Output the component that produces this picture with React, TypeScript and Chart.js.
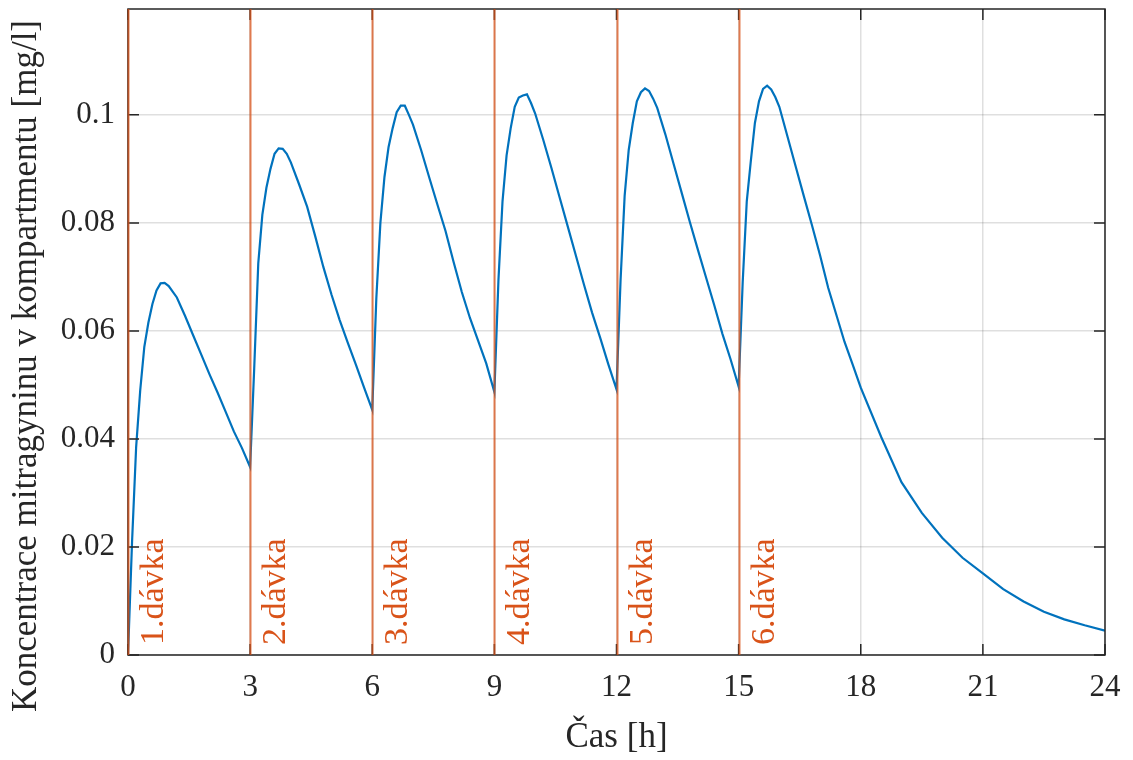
import React, { useEffect, useRef } from "react";
import { Chart, registerables } from "chart.js";

Chart.register(...registerables);

// ---- data ----
const TIME_H = [
  0, 0.1, 0.2, 0.3, 0.4, 0.5, 0.6, 0.7, 0.8, 0.9, 1.0, 1.2, 1.4, 1.6, 1.8, 2.0, 2.2, 2.4, 2.6, 2.8,
  3.0, 3.1, 3.2, 3.3, 3.4, 3.5, 3.6, 3.7, 3.8, 3.9, 4.0, 4.2, 4.4, 4.6, 4.8, 5.0, 5.2, 5.4, 5.6, 5.8,
  6.0, 6.1, 6.2, 6.3, 6.4, 6.5, 6.6, 6.7, 6.8, 6.9, 7.0, 7.2, 7.4, 7.6, 7.8, 8.0, 8.2, 8.4, 8.6, 8.8,
  9.0, 9.1, 9.2, 9.3, 9.4, 9.5, 9.6, 9.7, 9.8, 9.9, 10.0, 10.2, 10.4, 10.6, 10.8, 11.0, 11.2, 11.4, 11.6, 11.8,
  12.0, 12.1, 12.2, 12.3, 12.4, 12.5, 12.6, 12.7, 12.8, 12.9, 13.0, 13.2, 13.4, 13.6, 13.8, 14.0, 14.2, 14.4, 14.6, 14.8,
  15.0, 15.1, 15.2, 15.3, 15.4, 15.5, 15.6, 15.7, 15.8, 15.9, 16.0, 16.2, 16.4, 16.6, 16.8, 17.0, 17.2, 17.4, 17.6, 17.8,
  18.0, 18.5, 19.0, 19.5, 20.0, 20.5, 21.0, 21.5, 22.0, 22.5, 23.0, 23.5, 24.0,
];

const CONC_MG_L = [
  0, 0.021, 0.0385, 0.049, 0.057, 0.0615, 0.065, 0.0675, 0.0688, 0.0689, 0.0683, 0.0662, 0.0628, 0.0592, 0.0556, 0.052, 0.0486, 0.045, 0.0414, 0.0383,
  0.0348, 0.053, 0.0725, 0.0815, 0.0865, 0.09, 0.0928, 0.0938, 0.0937, 0.0928, 0.0912, 0.0872, 0.083, 0.0775, 0.0718, 0.0667, 0.062, 0.0578, 0.0537, 0.0495,
  0.0454, 0.066, 0.08, 0.0885, 0.094, 0.0975, 0.1005, 0.1017, 0.1017, 0.1, 0.0982, 0.0935, 0.0884, 0.0834, 0.0785, 0.0727, 0.0672, 0.0624, 0.0582, 0.054,
  0.0487, 0.0694, 0.084, 0.0925, 0.0975, 0.1015, 0.1032, 0.1036, 0.1038, 0.1022, 0.1003, 0.0954, 0.0902, 0.0848, 0.0794, 0.074, 0.0686, 0.0634, 0.0587, 0.0538,
  0.0492, 0.0694, 0.085, 0.0935, 0.0985, 0.1025, 0.1042, 0.1049, 0.1044, 0.103, 0.1013, 0.0964, 0.091, 0.0856, 0.0802, 0.075, 0.0699, 0.0648, 0.0595, 0.0548,
  0.0497, 0.069, 0.084, 0.0915, 0.0985, 0.1025, 0.1048, 0.1054, 0.1047, 0.1033, 0.1015, 0.096, 0.0905, 0.085, 0.0796, 0.074, 0.068, 0.063, 0.058, 0.0538,
  0.0495, 0.0404, 0.032, 0.0263, 0.0217, 0.018, 0.0151, 0.0122, 0.0099, 0.008, 0.0066, 0.0055, 0.0045,
];

const DOSE_TIMES = [0, 3, 6, 9, 12, 15];
const DOSE_LABELS = ["1.dávka", "2.dávka", "3.dávka", "4.dávka", "5.dávka", "6.dávka"];

const X_TICKS = [0, 3, 6, 9, 12, 15, 18, 21, 24];
const X_TICK_LABELS = ["0", "3", "6", "9", "12", "15", "18", "21", "24"];
const Y_TICKS = [0, 0.02, 0.04, 0.06, 0.08, 0.1];
const Y_TICK_LABELS = ["0", "0.02", "0.04", "0.06", "0.08", "0.1"];

const X_TITLE = "Čas [h]";
const Y_TITLE = "Koncentrace mitragyninu v kompartmentu [mg/l]";

const X_MIN = 0;
const X_MAX = 24;
const Y_MIN = 0;
const Y_MAX = 0.1196;

// ---- styles ----
const FONT = "'Liberation Serif', 'Times New Roman', serif";
const AXIS_COLOR = "#262626";
const GRID_COLOR = "rgba(38,38,38,0.15)";
const LINE_COLOR = "#0072BD";
const DOSE_LINE_COLOR = "rgba(217,83,25,0.75)";
const DOSE_TEXT_COLOR = "#D95319";

const framePlugin = {
  id: "frame",
  afterDatasetsDraw(chart: any) {
    const { ctx, chartArea: a, scales } = chart;
    const xs = scales.x;
    const ys = scales.y;
    const TICK = 11;
    ctx.save();
    ctx.strokeStyle = AXIS_COLOR;
    ctx.lineWidth = 1.5;
    ctx.strokeRect(a.left, a.top, a.right - a.left, a.bottom - a.top);
    ctx.beginPath();
    for (const t of X_TICKS) {
      const px = xs.getPixelForValue(t);
      ctx.moveTo(px, a.bottom);
      ctx.lineTo(px, a.bottom - TICK);
      ctx.moveTo(px, a.top);
      ctx.lineTo(px, a.top + TICK);
    }
    for (const t of Y_TICKS) {
      const py = ys.getPixelForValue(t);
      ctx.moveTo(a.left, py);
      ctx.lineTo(a.left + TICK, py);
      ctx.moveTo(a.right, py);
      ctx.lineTo(a.right - TICK, py);
    }
    ctx.stroke();

    // dose lines
    ctx.strokeStyle = DOSE_LINE_COLOR;
    ctx.lineWidth = 2;
    ctx.beginPath();
    for (const d of DOSE_TIMES) {
      const px = Math.round(xs.getPixelForValue(d)) + 0.5;
      ctx.moveTo(px, a.top);
      ctx.lineTo(px, a.bottom);
    }
    ctx.stroke();

    // dose labels
    ctx.fillStyle = DOSE_TEXT_COLOR;
    ctx.font = `34px ${FONT}`;
    ctx.textAlign = "left";
    ctx.textBaseline = "alphabetic";
    DOSE_TIMES.forEach((d, i) => {
      const px = xs.getPixelForValue(d);
      ctx.save();
      ctx.translate(px + 35, a.bottom - 10);
      ctx.rotate(-Math.PI / 2);
      ctx.fillText(DOSE_LABELS[i], 0, 0);
      ctx.restore();
    });
    ctx.restore();
  },
  afterDraw(chart: any) {
    const { ctx, chartArea: a } = chart;
    ctx.save();
    ctx.fillStyle = AXIS_COLOR;
    ctx.font = `35px ${FONT}`;
    ctx.textAlign = "center";
    ctx.textBaseline = "middle";
    ctx.fillText(X_TITLE, (a.left + a.right) / 2, 738);
    ctx.save();
    ctx.translate(27, 366);
    ctx.rotate(-Math.PI / 2);
    ctx.fillText(Y_TITLE, 0, 0);
    ctx.restore();
    ctx.restore();
  },
};

export default function App() {
  const canvasRef = useRef<HTMLCanvasElement | null>(null);

  useEffect(() => {
    const canvas = canvasRef.current;
    if (!canvas) return;
    const points = TIME_H.map((t, i) => ({ x: t, y: CONC_MG_L[i] }));
    const chart = new Chart(canvas, {
      type: "line",
      data: {
        datasets: [
          {
            data: points,
            borderColor: LINE_COLOR,
            borderWidth: 2.2,
            pointRadius: 0,
            tension: 0,
            fill: false,
          },
        ],
      },
      options: {
        animation: false,
        responsive: false,
        maintainAspectRatio: false,
        layout: { padding: { top: 9, right: 28, left: 0, bottom: 0 } },
        plugins: { legend: { display: false }, tooltip: { enabled: false } },
        scales: {
          x: {
            type: "linear",
            min: X_MIN,
            max: X_MAX,
            afterBuildTicks: (scale: any) => {
              scale.ticks = X_TICKS.map((v) => ({ value: v }));
            },
            afterFit: (scale: any) => {
              scale.height = 105;
              scale.paddingLeft = 0;
              scale.paddingRight = 0;
              scale.paddingTop = 0;
              scale.paddingBottom = 0;
            },
            ticks: {
              callback: (_v: any, i: number) => X_TICK_LABELS[i],
              font: { family: FONT, size: 31 },
              color: AXIS_COLOR,
              padding: 14,
              maxRotation: 0,
              autoSkip: false,
            },
            grid: { color: GRID_COLOR, lineWidth: 1.5, drawTicks: false },
            border: { display: false },
          },
          y: {
            type: "linear",
            min: Y_MIN,
            max: Y_MAX,
            afterBuildTicks: (scale: any) => {
              scale.ticks = Y_TICKS.map((v) => ({ value: v }));
            },
            afterFit: (scale: any) => {
              scale.width = 128;
              scale.paddingLeft = 0;
              scale.paddingRight = 0;
              scale.paddingTop = 0;
              scale.paddingBottom = 0;
            },
            ticks: {
              callback: (_v: any, i: number) => Y_TICK_LABELS[i],
              font: { family: FONT, size: 31 },
              color: AXIS_COLOR,
              padding: 13,
              autoSkip: false,
            },
            grid: { color: GRID_COLOR, lineWidth: 1.5, drawTicks: false },
            border: { display: false },
          },
        },
      },
      plugins: [framePlugin],
    });
    return () => chart.destroy();
  }, []);

  return (
    <div style={{ position: "absolute", left: 0, top: 0, width: 1133, height: 760, background: "#fff" }}>
      <canvas ref={canvasRef} width={1133} height={760} style={{ width: 1133, height: 760, display: "block" }} />
    </div>
  );
}
